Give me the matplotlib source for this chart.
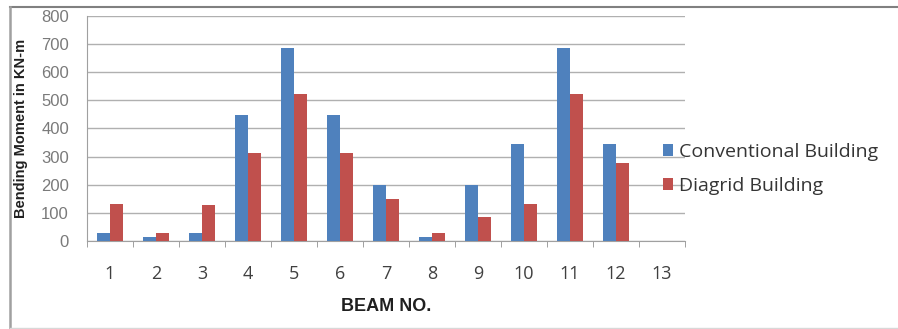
import numpy as np
import matplotlib.pyplot as plt
from matplotlib.lines import Line2D

beams = [str(i) for i in range(1, 14)]
conventional = [30, 13, 30, 447, 687, 447, 200, 13, 200, 346, 687, 346, 0]
diagrid = [130, 27, 128, 314, 522, 314, 150, 28, 85, 130, 522, 279, 0]

plt.rcParams['font.family'] = ['Liberation Sans', 'DejaVu Sans']

fig = plt.figure(figsize=(8.98, 3.29), dpi=100)
ax = fig.add_axes([0.0969, 0.2675, 0.666, 0.684])

x = np.arange(len(beams))
w = 0.285
ax.bar(x - w / 2, conventional, w, color='#4F81BD', label='Conventional Building', zorder=3)
ax.bar(x + w / 2, diagrid, w, color='#C0504D', label='Diagrid Building', zorder=3)

ax.set_xlim(-0.5, len(beams) - 0.5)
ax.set_ylim(0, 800)
ax.set_yticks(range(0, 801, 100))
ax.yaxis.grid(True, color='#b0b0b0', linewidth=1, zorder=0)
ax.tick_params(axis='y', length=0, labelsize=12, labelcolor='#7a7a7a', pad=13)
ax.set_xticks(x)
ax.set_xticklabels(beams, family=['Open Sans', 'DejaVu Sans'])
ax.tick_params(axis='x', length=0, labelsize=13, labelcolor='#404040', pad=17)
ax.set_xticks(np.arange(-0.5, len(beams)), minor=True)
ax.tick_params(axis='x', which='minor', length=4, color='#909090', direction='out')

for s in ['top', 'right']:
    ax.spines[s].set_visible(False)
ax.spines['left'].set_color('#a0a0a0')
ax.spines['bottom'].set_color('#a0a0a0')

ax.set_ylabel('Bending Moment in KN-m', fontsize=10.5, fontweight='bold', color='#202020')
ax.yaxis.set_label_coords(-0.099, 0.5)
ax.set_xlabel('BEAM NO.', fontsize=13, fontweight='bold', color='#202020', labelpad=11)

leg = ax.legend(loc='center left', bbox_to_anchor=(0.933, 0.32), frameon=False,
                prop={'family': ['Open Sans', 'DejaVu Sans'], 'size': 14},
                handlelength=0.55, handleheight=0.55, handletextpad=0.3,
                labelspacing=0.8, labelcolor='#353535')

fig.add_artist(Line2D([0.011, 1.0], [0.979, 0.979], transform=fig.transFigure,
                      color='#808080', linewidth=1.5))
fig.add_artist(Line2D([0.011, 0.011], [0.0, 0.979], transform=fig.transFigure,
                      color='#a0a0a0', linewidth=1.8))
fig.add_artist(Line2D([0.011, 1.0], [0.004, 0.004], transform=fig.transFigure,
                      color='#d8d8d8', linewidth=1))

fig.savefig('out.png', dpi=100)
